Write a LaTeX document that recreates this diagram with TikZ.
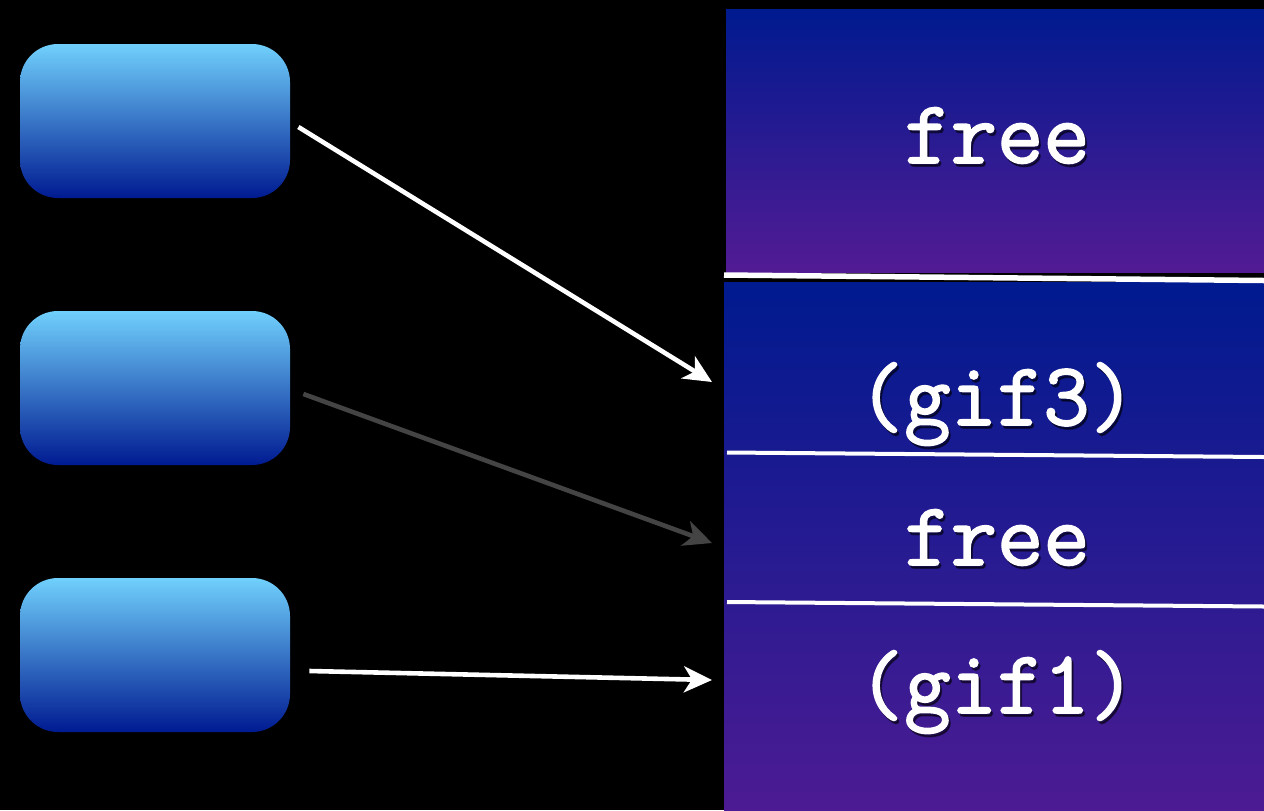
\documentclass[tikz,border=0pt]{standalone}
\usepackage{fontspec}
\newfontfamily\memfont{Latin Modern Mono}[FakeBold=1.8]
\usetikzlibrary{arrows.meta}
\definecolor{boxtop}{RGB}{112,208,252}
\definecolor{boxbot}{RGB}{0,26,145}
\definecolor{pantop}{RGB}{0,26,143}
\definecolor{panbot}{RGB}{82,27,148}
\definecolor{lowbot}{RGB}{76,27,147}
\definecolor{arrgray}{RGB}{68,68,68}
\tikzset{
  bbox/.style={minimum width=135pt, minimum height=77pt, rounded corners=19pt,
    top color=boxtop, bottom color=boxbot, inner sep=0pt},
  memtext/.style={text=white, anchor=base, font=\memfont\fontsize{45}{47}\selectfont, inner sep=0pt},
  memshadow/.style={text=black, opacity=0.5, anchor=base, font=\memfont\fontsize{45}{47}\selectfont, inner sep=0pt},
  divider/.style={white, line width=2pt},
  ptr/.style={line width=2.3pt, -{Stealth[length=14pt, width=13pt, inset=4pt]}}
}
\begin{document}
\begin{tikzpicture}[x=0.5pt,y=-0.5pt]
\fill[black] (0,0) rectangle (1264,810);
\useasboundingbox (0,0) rectangle (1264,810);
% memory panels
\shade[top color=pantop, bottom color=panbot] (726,9) rectangle (1264,272);
\shade[top color=pantop, bottom color=lowbot] (724,282) rectangle (1264,810);
\draw[divider, line width=2.75pt] (724,275) -- (1264,280.5);
\draw[divider] (727,452.5) -- (1264,457);
\draw[divider] (727,602) -- (1264,606.5);
% texts
\foreach \p/\t/\n in {163/free/t1, 425/(gif3)/t2, 565/free/t3, 713/(gif1)/t4}{
  \node[memshadow] at (999,\p+3) {\t};
  \node[memtext] (\n) at (997,\p) {\t};
}
% boxes
\node[bbox] (b1) at (155,121) {};
\node[bbox] (b2) at (155,388) {};
\node[bbox] (b3) at (155,655) {};
% arrow ends
\coordinate (e1) at (712,382);
\coordinate (e2) at (712,543);
\coordinate (e3) at (712,680);
\draw[ptr, white] ([xshift=4pt,yshift=-3pt]b1.east) -- (e1);
\draw[ptr, arrgray] ([xshift=6.5pt,yshift=-3pt]b2.east) -- (e2);
\draw[ptr, white] ([xshift=9.5pt,yshift=-8pt]b3.east) -- (e3);
\end{tikzpicture}
\end{document}
